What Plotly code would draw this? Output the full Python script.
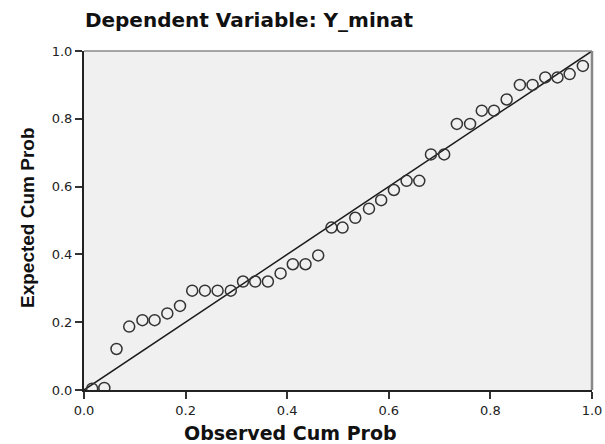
import plotly.graph_objects as go

observed = [0.016, 0.040, 0.064, 0.089, 0.115, 0.139, 0.164, 0.189, 0.213, 0.238,
            0.263, 0.289, 0.313, 0.337, 0.362, 0.387, 0.411, 0.436, 0.461, 0.487,
            0.509, 0.534, 0.561, 0.585, 0.610, 0.635, 0.660, 0.683, 0.709, 0.734,
            0.760, 0.783, 0.807, 0.832, 0.858, 0.883, 0.908, 0.932, 0.956, 0.982]
expected = [0.004, 0.006, 0.121, 0.187, 0.206, 0.206, 0.226, 0.248, 0.293, 0.293,
            0.293, 0.293, 0.320, 0.320, 0.320, 0.344, 0.371, 0.371, 0.397, 0.479,
            0.479, 0.508, 0.535, 0.560, 0.590, 0.617, 0.617, 0.695, 0.695, 0.785,
            0.785, 0.824, 0.824, 0.857, 0.900, 0.900, 0.922, 0.922, 0.932, 0.956]
ref_line = [0.0, 1.0]
ticks = [0.0, 0.2, 0.4, 0.6, 0.8, 1.0]
tick_text = ["0.0", "0.2", "0.4", "0.6", "0.8", "1.0"]

fig = go.Figure()
fig.add_trace(go.Scatter(x=ref_line, y=ref_line, mode="lines",
                         line=dict(color="#1a1a1a", width=1.5), showlegend=False,
                         hoverinfo="skip"))
fig.add_trace(go.Scatter(x=observed, y=expected, mode="markers",
                         marker=dict(symbol="circle-open", size=11, color="#333333",
                                     line=dict(width=1.5)),
                         showlegend=False))

font = "DejaVu Sans, Liberation Sans, Arial, sans-serif"
axis_common = dict(range=[0, 1], tickvals=ticks, ticktext=tick_text, ticks="outside",
                   ticklen=7, tickwidth=2, tickcolor="#333333", showgrid=False,
                   zeroline=False, showline=True, linecolor="#222222", linewidth=2,
                   tickfont=dict(family=font, size=13, color="#222222"), fixedrange=True)
fig.update_xaxes(**axis_common, automargin=False)
fig.update_yaxes(**axis_common, automargin=False)

fig.update_layout(
    width=605, height=444,
    margin=dict(l=84, r=13, t=51, b=54),
    paper_bgcolor="white", plot_bgcolor="#f0f0f0",
    title=dict(text="<b>Dependent Variable: Y_minat</b>", x=249 / 605, xref="container",
               xanchor="center", y=1 - 20 / 444, yref="container", yanchor="middle",
               font=dict(family=font, size=20, color="#111111")),
    shapes=[
        dict(type="line", xref="paper", yref="paper", x0=0, x1=1, y0=1, y1=1,
             line=dict(color="#888888", width=1.5)),
        dict(type="line", xref="paper", yref="paper", x0=1, x1=1, y0=0, y1=1,
             line=dict(color="#888888", width=2.5)),
    ],
    annotations=[
        dict(text="<b>Observed Cum Prob</b>", xref="paper", yref="paper",
             x=(290 - 84) / 508, y=-(433 - 390) / 339, xanchor="center", yanchor="middle",
             showarrow=False, font=dict(family=font, size=19, color="#111111")),
        dict(text="<b>Expected Cum Prob</b>", xref="paper", yref="paper",
             x=-(84 - 28) / 508, y=(390 - 218) / 339, xanchor="center", yanchor="middle",
             textangle=-90, showarrow=False,
             font=dict(family="Liberation Sans Narrow, Arial Narrow, sans-serif",
                       size=19, color="#111111")),
    ],
)

fig.write_html("out.html", config={"displayModeBar": False},
               post_script="document.body.style.margin='0';document.body.style.overflow='hidden';")
